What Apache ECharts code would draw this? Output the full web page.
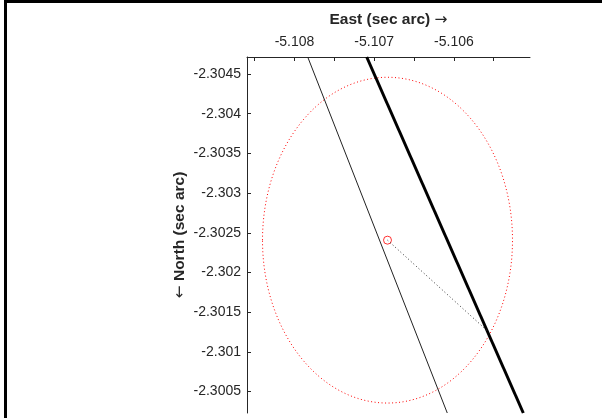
<!DOCTYPE html>
<html>
<head>
<meta charset="utf-8">
<script src="https://cdn.jsdelivr.net/npm/echarts@6/dist/echarts.min.js"></script>
<style>html,body{margin:0;padding:0;background:#fff}#c{width:602px;height:418px}</style>
</head>
<body>
<div id="c"></div>
<script>
// ---- data (sec arc) ----
const xRange = [-5.108596, -5.105045];
const yRange = [-2.304714, -2.30023];
const xTickValues = [-5.1085, -5.108, -5.1075, -5.107, -5.1065, -5.106, -5.1055];
const xLabelValues = [-5.108, -5.107, -5.106];
const yTickValues = [-2.3045, -2.304, -2.3035, -2.303, -2.3025, -2.302, -2.3015, -2.301, -2.3005];
const thinLine = [[-5.107834, -2.304714], [-5.106083, -2.30023]];
const thickLine = [[-5.107094, -2.304714], [-5.105129, -2.30023]];
const centerPoint = [-5.106833, -2.302407];
const ellipseRadii = [0.0015684, 0.0020516];
const connectorEnd = [-5.105568, -2.301254];

const axisColor = '#262626';
const fmt = v => String(+(+v).toFixed(4));
const nameStyle = {
  fontFamily: 'Liberation Sans', fontSize: 15.5, fontWeight: 'bold', color: axisColor,
  rich: {a: {fontFamily: 'DejaVu Sans', fontSize: 15.5, fontWeight: 'normal', color: axisColor}}
};

const chart = echarts.init(document.getElementById('c'), null, {renderer: 'canvas'});
chart.setOption({
  animation: false,
  backgroundColor: '#fff',
  graphic: [{
    type: 'rect', silent: true,
    shape: {x: 5.5, y: 1.5, width: 800, height: 800},
    style: {fill: 'none', stroke: '#000', lineWidth: 3}
  }],
  grid: {left: 247, top: 57, width: 283, height: 356, containLabel: false, outerBoundsMode: 'none'},
  xAxis: {
    type: 'value', position: 'top',
    min: xRange[0], max: xRange[1],
    name: 'East (sec arc) {a|\u2192}', nameLocation: 'middle', nameGap: 29,
    nameTextStyle: nameStyle,
    axisLine: {show: true, lineStyle: {color: axisColor, width: 1}},
    axisTick: {show: true, inside: true, length: 4, customValues: xTickValues, lineStyle: {color: axisColor}},
    axisLabel: {show: true, customValues: xLabelValues, formatter: fmt, margin: 8,
      fontFamily: 'Liberation Sans', fontSize: 14, color: axisColor},
    splitLine: {show: false}
  },
  yAxis: {
    type: 'value', inverse: true,
    min: yRange[0], max: yRange[1],
    name: '{a|\u2190} North (sec arc)', nameLocation: 'middle', nameGap: 59,
    nameTextStyle: nameStyle,
    axisLine: {show: true, lineStyle: {color: axisColor, width: 1}},
    axisTick: {show: true, inside: true, length: 4, customValues: yTickValues, lineStyle: {color: axisColor}},
    axisLabel: {show: true, customValues: yTickValues, formatter: fmt, margin: 6,
      fontFamily: 'Liberation Sans', fontSize: 14, color: axisColor},
    splitLine: {show: false}
  },
  series: [
    {
      type: 'custom', silent: true,
      data: [[centerPoint[0], centerPoint[1], ellipseRadii[0], ellipseRadii[1]]],
      encode: {x: 0, y: 1},
      renderItem: function (params, api) {
        const c = api.coord([api.value(0), api.value(1)]);
        const p = api.coord([api.value(0) + api.value(2), api.value(1) + api.value(3)]);
        return {
          type: 'ellipse',
          shape: {cx: c[0], cy: c[1], rx: Math.abs(p[0] - c[0]), ry: Math.abs(p[1] - c[1])},
          style: {fill: 'none', stroke: '#ff0000', lineWidth: 1, lineDash: [1, 2.5]}
        };
      }
    },
    {
      type: 'line', data: thinLine, symbol: 'none', silent: true,
      lineStyle: {color: '#222', width: 1}
    },
    {
      type: 'line', data: thickLine, symbol: 'none', silent: true,
      lineStyle: {color: '#000', width: 3}
    },
    {
      type: 'line', data: [centerPoint, connectorEnd], symbol: 'none', silent: true,
      lineStyle: {color: '#333', width: 1, type: [1, 2.5]}
    },
    {
      type: 'scatter', data: [centerPoint], symbol: 'circle', symbolSize: 8, silent: true,
      itemStyle: {color: 'rgba(0,0,0,0)', borderColor: '#ff0000', borderWidth: 1}
    }
  ]
});
</script>
</body>
</html>
